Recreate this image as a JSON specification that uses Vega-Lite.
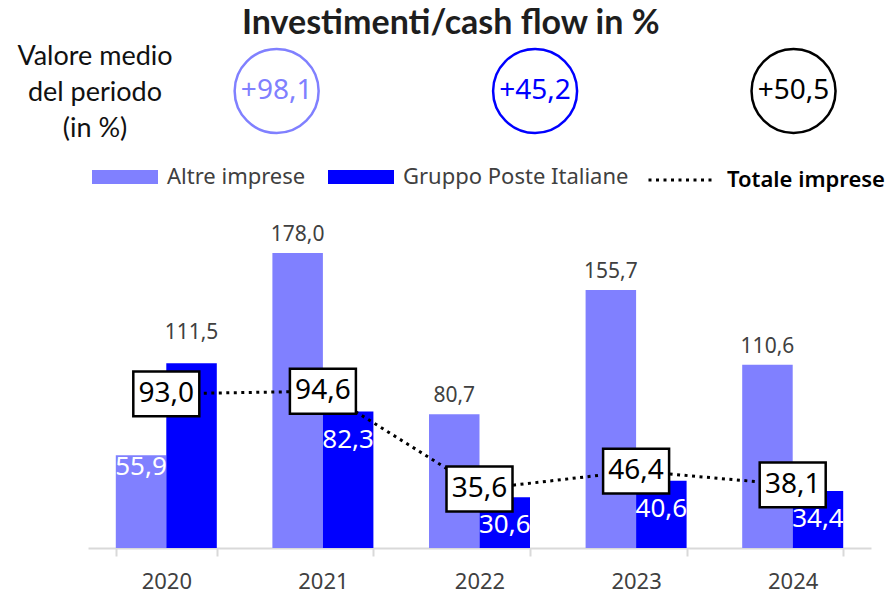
{
  "$schema": "https://vega.github.io/schema/vega-lite/v6.json",
  "background": "white",
  "padding": {"left": 0, "top": 7, "right": 0, "bottom": 3},
  "config": {
    "view": {"stroke": null},
    "font": "Noto Sans",
    "locale": {"number": {"decimal": ",", "thousands": ".", "grouping": [3], "currency": ["", " €"]}}
  },
  "title": {
    "text": "Investimenti/cash flow in %",
    "font": "Lato",
    "fontSize": 34,
    "fontWeight": "bold",
    "color": "#1e1e1e",
    "anchor": "start",
    "frame": "group",
    "dx": 242,
    "offset": 2
  },
  "datasets": {
    "medie": [
      {"serie": "Altre imprese", "media": 98.1},
      {"serie": "Gruppo Poste Italiane", "media": 45.2},
      {"serie": "Totale imprese", "media": 50.5}
    ],
    "barre": [
      {"anno": "2020", "serie": "Altre imprese", "valore": 55.9},
      {"anno": "2020", "serie": "Gruppo Poste Italiane", "valore": 111.5},
      {"anno": "2021", "serie": "Altre imprese", "valore": 178.0},
      {"anno": "2021", "serie": "Gruppo Poste Italiane", "valore": 82.3},
      {"anno": "2022", "serie": "Altre imprese", "valore": 80.7},
      {"anno": "2022", "serie": "Gruppo Poste Italiane", "valore": 30.6},
      {"anno": "2023", "serie": "Altre imprese", "valore": 155.7},
      {"anno": "2023", "serie": "Gruppo Poste Italiane", "valore": 40.6},
      {"anno": "2024", "serie": "Altre imprese", "valore": 110.6},
      {"anno": "2024", "serie": "Gruppo Poste Italiane", "valore": 34.4}
    ],
    "totale": [
      {"anno": "2020", "valore": 93.0},
      {"anno": "2021", "valore": 94.6},
      {"anno": "2022", "valore": 35.6},
      {"anno": "2023", "valore": 46.4},
      {"anno": "2024", "valore": 38.1}
    ]
  },
  "bounds": "flush",
  "columns": 2,
  "align": {"column": "each", "row": "each"},
  "spacing": {"row": 64, "column": 0},
  "resolve": {
    "scale": {"color": "independent", "strokeDash": "independent"},
    "legend": {"color": "independent", "strokeDash": "independent"}
  },
  "concat": [
    {
      "width": 88,
      "height": 90,
      "data": {"values": [{"testo": "Valore medio\ndel periodo\n(in %)"}]},
      "mark": {"type": "text", "font": "Lato", "fontSize": 27, "lineHeight": 36, "lineBreak": "\n", "color": "#111111", "baseline": "middle", "dx": 51, "dy": -34},
      "encoding": {"text": {"field": "testo", "type": "nominal"}}
    },
    {
      "width": 780,
      "height": 90,
      "data": {"name": "medie"},
      "encoding": {
        "x": {"field": "serie", "type": "nominal", "sort": null, "scale": {"type": "point", "padding": 0.509, "align": 0.717}, "axis": null},
        "color": {
          "field": "serie",
          "type": "nominal",
          "scale": {"domain": ["Altre imprese", "Gruppo Poste Italiane", "Totale imprese"], "range": ["#8080FF", "#0000FF", "#000000"]},
          "legend": null
        }
      },
      "layer": [
        {"mark": {"type": "point", "shape": "circle", "size": 7056, "strokeWidth": 2.5, "filled": false, "opacity": 1}},
        {
          "mark": {"type": "text", "fontSize": 28, "font": "Noto Sans"},
          "encoding": {"text": {"field": "media", "type": "quantitative", "format": "+.1f"}}
        }
      ]
    },
    {
      "width": 88,
      "height": 348,
      "data": {"values": [{"t": ""}]},
      "mark": {"type": "text"},
      "encoding": {"text": {"field": "t", "type": "nominal"}}
    },
    {
      "width": 783,
      "height": 348,
      "encoding": {
        "x": {
          "field": "anno",
          "type": "nominal",
          "scale": {"paddingInner": 0.355, "paddingOuter": 0.1775},
          "axis": {
            "title": null,
            "labelAngle": 0,
            "labelFontSize": 22,
            "labelColor": "#404040",
            "labelPadding": 15,
            "domainColor": "#D9D9D9",
            "domainWidth": 2,
            "tickColor": "#D9D9D9",
            "tickWidth": 2,
            "tickSize": 8,
            "tickBand": "extent",
            "grid": false
          }
        }
      },
      "layer": [
        {
          "data": {"name": "barre"},
          "mark": {"type": "bar"},
          "encoding": {
            "xOffset": {"field": "serie", "type": "nominal", "sort": ["Altre imprese", "Gruppo Poste Italiane"]},
            "y": {"field": "valore", "type": "quantitative", "scale": {"domain": [0, 210]}, "axis": null},
            "color": {
              "field": "serie",
              "type": "nominal",
              "scale": {"domain": ["Altre imprese", "Gruppo Poste Italiane"], "range": ["#8080FF", "#0000FF"]},
              "legend": {
                "orient": "top",
                "direction": "horizontal",
                "title": null,
                "symbolType": "M-1,-0.21H1V0.21H-1Z",
                "symbolSize": 4356,
                "symbolStrokeWidth": 0,
                "symbolOpacity": 1,
                "labelFontSize": 22,
                "labelColor": "#404040",
                "labelFont": "Noto Sans",
                "labelOffset": 9,
                "columnPadding": 22,
                "offset": 3,
                "padding": 4,
                "labelLimit": 400
              }
            }
          }
        },
        {
          "data": {"name": "barre"},
          "transform": [{"filter": "datum.serie == 'Altre imprese' && datum.valore > 60"}],
          "mark": {"type": "text", "baseline": "alphabetic", "dy": -12, "fontSize": 21, "color": "#404040"},
          "encoding": {
            "xOffset": {"field": "serie", "type": "nominal", "sort": ["Altre imprese", "Gruppo Poste Italiane"]},
            "y": {"field": "valore", "type": "quantitative", "scale": {"domain": [0, 210]}, "axis": null},
            "text": {"field": "valore", "type": "quantitative", "format": ".1f"}
          }
        },
        {
          "data": {"name": "barre"},
          "transform": [{"filter": "datum.serie == 'Gruppo Poste Italiane' && datum.valore > 100"}],
          "mark": {"type": "text", "baseline": "alphabetic", "dy": -24, "fontSize": 21, "color": "#404040"},
          "encoding": {
            "xOffset": {"field": "serie", "type": "nominal", "sort": ["Altre imprese", "Gruppo Poste Italiane"]},
            "y": {"field": "valore", "type": "quantitative", "scale": {"domain": [0, 210]}, "axis": null},
            "text": {"field": "valore", "type": "quantitative", "format": ".1f"}
          }
        },
        {
          "data": {"name": "barre"},
          "transform": [{"filter": "datum.serie == 'Altre imprese' && datum.valore <= 60"}],
          "mark": {"type": "text", "baseline": "middle", "dy": 12, "fontSize": 26, "color": "white"},
          "encoding": {
            "xOffset": {"field": "serie", "type": "nominal", "sort": ["Altre imprese", "Gruppo Poste Italiane"]},
            "y": {"field": "valore", "type": "quantitative", "scale": {"domain": [0, 210]}, "axis": null},
            "text": {"field": "valore", "type": "quantitative", "format": ".1f"}
          }
        },
        {
          "data": {"name": "barre"},
          "transform": [{"filter": "datum.serie == 'Gruppo Poste Italiane' && datum.valore <= 100"}],
          "mark": {"type": "text", "baseline": "middle", "dy": 28, "fontSize": 26, "color": "white"},
          "encoding": {
            "xOffset": {"field": "serie", "type": "nominal", "sort": ["Altre imprese", "Gruppo Poste Italiane"]},
            "y": {"field": "valore", "type": "quantitative", "scale": {"domain": [0, 210]}, "axis": null},
            "text": {"field": "valore", "type": "quantitative", "format": ".1f"}
          }
        },
        {
          "data": {"name": "totale"},
          "mark": {"type": "line", "color": "black", "strokeWidth": 3},
          "encoding": {
            "y": {"field": "valore", "type": "quantitative", "scale": {"domain": [0, 210]}, "axis": null},
            "strokeDash": {
              "datum": "Totale imprese",
              "type": "nominal",
              "scale": {"range": [[3, 4.5]]},
              "legend": {
                "orient": "top",
                "title": null,
                "symbolType": "stroke",
                "symbolSize": 4225,
                "symbolStrokeWidth": 3,
                "symbolStrokeColor": "black",
                "labelFontSize": 22,
                "labelFontWeight": 600,
                "labelColor": "#000000",
                "labelFont": "Noto Sans",
                "labelOffset": 12,
                "offset": 3,
                "padding": 6,
                "labelLimit": 400
              }
            }
          }
        },
        {
          "data": {"name": "totale"},
          "mark": {"type": "point", "shape": "M-1,-0.68H1V0.68H-1Z", "size": 4356, "filled": true, "fill": "white", "stroke": "black", "strokeWidth": 2.5, "opacity": 1},
          "encoding": {
            "y": {"field": "valore", "type": "quantitative", "scale": {"domain": [0, 210]}, "axis": null}
          }
        },
        {
          "data": {"name": "totale"},
          "mark": {"type": "text", "fontSize": 28, "color": "black"},
          "encoding": {
            "y": {"field": "valore", "type": "quantitative", "scale": {"domain": [0, 210]}, "axis": null},
            "text": {"field": "valore", "type": "quantitative", "format": ".1f"}
          }
        }
      ]
    }
  ]
}
